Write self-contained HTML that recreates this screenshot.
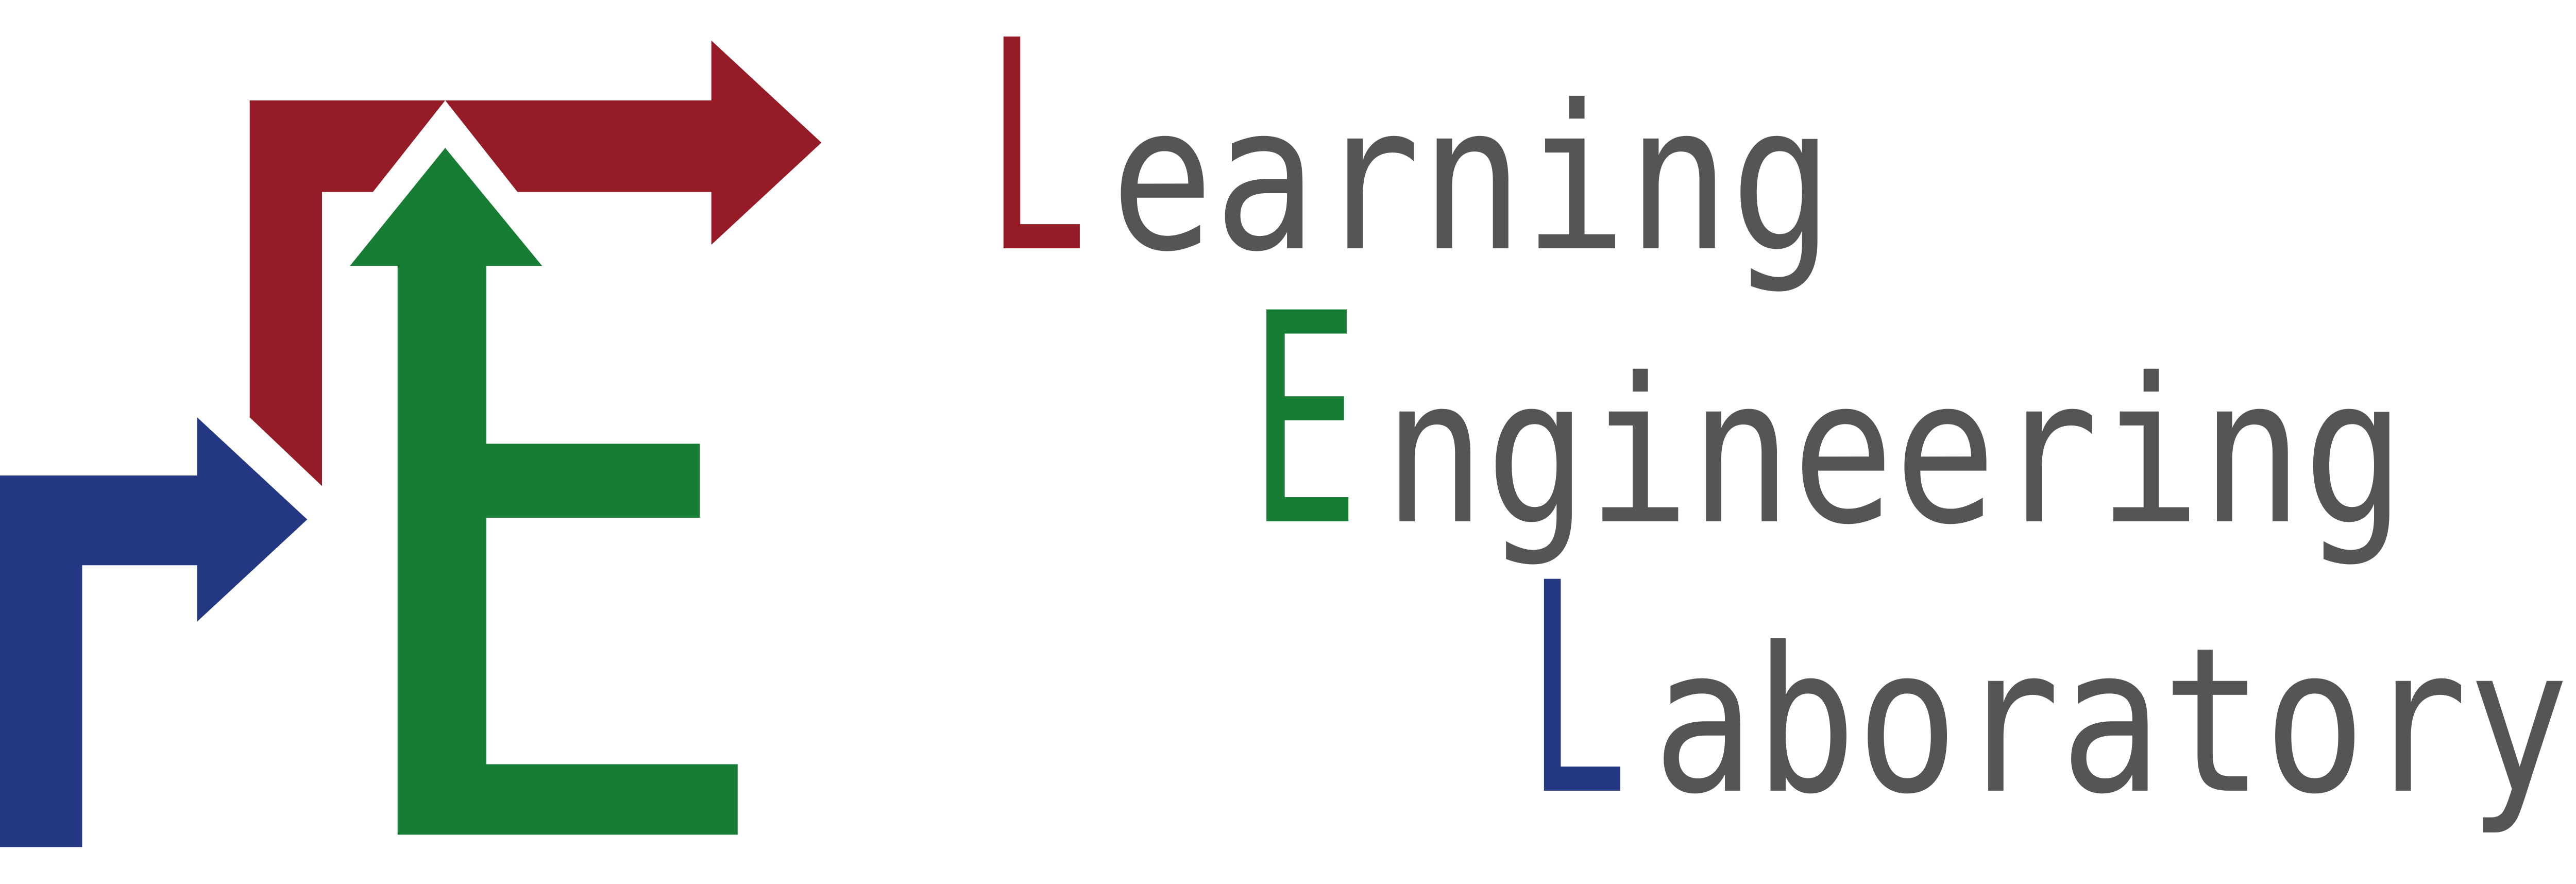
<!DOCTYPE html>
<html><head><meta charset="utf-8"><style>
html,body{margin:0;padding:0;background:#fff;overflow:hidden;width:100%;height:100%}
svg{display:block;position:fixed;left:0;top:0;width:100vw;height:100vh}
text{font-family:"DejaVu Sans Mono","Liberation Mono",monospace}
</style></head><body>
<svg viewBox="0 0 1568 502" preserveAspectRatio="none" xmlns="http://www.w3.org/2000/svg">
<rect width="1568" height="502" fill="#fff"/>
<g>
<polygon fill="#951b26" points="152,57 271,57 227,109 196,109 196,276 152,237"/>
<polygon fill="#951b26" points="271,57 433,57 433,23 500,81 433,139 433,109 315,109"/>
<polygon fill="#177d34" points="271,84 330,151 296,151 296,252 426,252 426,294 296,294 296,434 449,434 449,474 242,474 242,151 213,151"/>
<polygon fill="#233783" points="0,270 120,270 120,237 187,295 120,353 120,321 50,321 50,481 0,481"/>
</g>
<g>
<text x="600" y="141" font-size="165" fill="#951b26" textLength="62" lengthAdjust="spacingAndGlyphs">L</text>
<text x="676" y="141" font-size="114" fill="#555" textLength="440" lengthAdjust="spacingAndGlyphs">earning</text>
<text x="760" y="296" font-size="165" fill="#177d34" textLength="68" lengthAdjust="spacingAndGlyphs">E</text>
<text x="842" y="296" font-size="114" fill="#555" textLength="622" lengthAdjust="spacingAndGlyphs">ngineering</text>
<text x="929" y="449" font-size="165" fill="#233783" textLength="62" lengthAdjust="spacingAndGlyphs">L</text>
<text x="1006" y="449" font-size="114" fill="#555" textLength="558" lengthAdjust="spacingAndGlyphs">aboratory</text>
</g>
</svg>
</body></html>
